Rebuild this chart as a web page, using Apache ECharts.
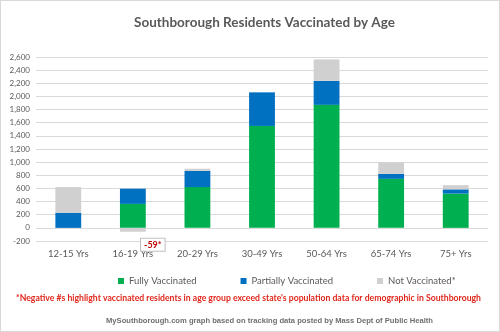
<!DOCTYPE html>
<html><head><meta charset="utf-8">
<script src="https://cdn.jsdelivr.net/npm/echarts@6/dist/echarts.min.js"></script>
<style>html,body{margin:0;padding:0;background:#fff}#c{width:500px;height:332px;box-sizing:border-box;border:1px solid #d9d9d9}</style>
</head><body><div id="c"></div>
<script>
var categories = ['12-15 Yrs','16-19 Yrs','20-29 Yrs','30-49 Yrs','50-64 Yrs','65-74 Yrs','75+ Yrs'];
var fullyVaccinated = [0, 365, 620, 1551, 1872, 746, 521];
var partiallyVaccinated = [230, 231, 246, 511, 365, 75, 65];
var notVaccinated = [390, -59, 34, 0, 326, 175, 64];
var seriesNames = ['Fully Vaccinated','Partially Vaccinated','Not Vaccinated*'];
var titleText = 'Southborough Residents Vaccinated by Age';
var noteText = "*Negative #s highlight vaccinated residents in age group exceed state's population data for demographic in Southborough";
var sourceText = 'MySouthborough.com graph based on tracking data posted by Mass Dept of Public Health';

var chart = echarts.init(document.getElementById('c'), null, {renderer:'canvas'});
var font = 'Lato, "Open Sans", sans-serif';
var noteFont = 'bold 10px Lato, sans-serif';
var srcFont = 'bold 7px "Liberation Sans", Arial, sans-serif';
function measure(t, f){var c=document.createElement('canvas').getContext('2d');c.font=f;return c.measureText(t).width;}
var noteScale = 465 / measure(noteText, noteFont);
var srcScale = 327 / measure(sourceText, srcFont);
var notData = notVaccinated.map(function(v){
  if (v < 0) {
    return {value: v, label: {show: true, formatter: v + '*', position: 'bottom', offset:[20, 2],
      color:'#c00000', fontWeight:'bold', fontSize:9, fontFamily:font,
      backgroundColor:'#fff', borderColor:'#bfbfbf', borderWidth:1, padding:[2,3,1,3]}};
  }
  return v;
});
chart.setOption({
  animation:false,
  title:{text:titleText, left:128, top:10, textStyle:{fontFamily:font, fontSize:13.5, fontWeight:'bold', color:'#595959'}},
  grid:{left:35, right:11, top:56, bottom:90},
  legend:{data:seriesNames, left:112, top:270, itemWidth:6, itemHeight:6, itemGap:44, icon:'rect',
    textStyle:{fontFamily:font, fontSize:9.5, color:'#595959'}},
  xAxis:{type:'category', data:categories, axisLine:{show:false, onZero:false}, axisTick:{show:false},
    axisLabel:{fontFamily:font, fontSize:9.5, color:'#595959', margin:8}},
  yAxis:{type:'value', min:-200, max:2600, interval:200,
    axisLabel:{fontFamily:font, fontSize:8, color:'#595959', margin:6,
      formatter:function(v){return v.toLocaleString('en-US');}},
    splitLine:{lineStyle:{color:'#d9d9d9'}}},
  series:[
    {name:seriesNames[0], type:'bar', stack:'a', data:fullyVaccinated, barWidth:'40%', itemStyle:{color:'#00b050'}},
    {name:seriesNames[1], type:'bar', stack:'a', data:partiallyVaccinated, itemStyle:{color:'#0070c0'}},
    {name:seriesNames[2], type:'bar', stack:'a', data:notData, itemStyle:{color:'#d0d0d0'}}
  ],
  graphic:[
    {type:'text', x:247.5, y:297, scaleX:noteScale, style:{text:noteText, fill:'#e0261b', font:noteFont, textAlign:'center', textVerticalAlign:'middle'}},
    {type:'text', x:268.5, y:320, scaleX:srcScale, style:{text:sourceText, fill:'#6f6f6f', font:srcFont, textAlign:'center', textVerticalAlign:'middle'}}
  ]
});
</script></body></html>
